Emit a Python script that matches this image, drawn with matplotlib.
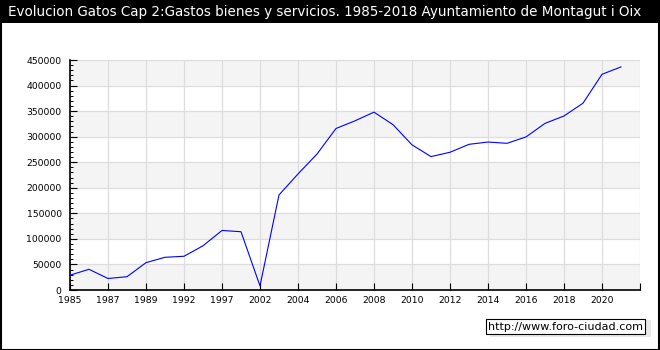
import matplotlib
matplotlib.use('Agg')
import matplotlib.pyplot as plt
from matplotlib.patches import Rectangle
from matplotlib.ticker import MultipleLocator

# datos
years = [1985, 1986, 1987, 1988, 1989, 1990, 1992, 1995, 1997, 2000,
         2002, 2003, 2004, 2005, 2006, 2007, 2008, 2009, 2010, 2011,
         2012, 2013, 2014, 2015, 2016, 2017, 2018, 2019, 2020, 2021]
gastos = [29000, 40500, 22500, 26000, 53500, 64000, 66000, 86500, 116500, 114000,
          8000, 186000, 227000, 266000, 316000, 331000, 348000, 323500, 284000, 261000,
          269500, 285000, 289500, 287000, 299500, 326000, 340500, 365500, 422000, 436500]

title = "Evolucion Gatos Cap 2:Gastos bienes y servicios. 1985-2018 Ayuntamiento de Montagut i Oix"

W, H = 660, 350
fig = plt.figure(figsize=(W / 100, H / 100), dpi=100)
fig.patch.set_facecolor('white')

# barra de titulo
fig.patches.append(Rectangle((0, 1 - 23 / H), 1, 23 / H, transform=fig.transFigure,
                             facecolor='black', edgecolor='none', zorder=0))
fig.text(8 / W, 1 - 12 / H, title, color='white', fontsize=9.75, va='center', ha='left',
         family='DejaVu Sans')
# borde
fig.patches.append(Rectangle((0.5 / W, 0.5 / H), 1 - 1.5 / W, 1 - 1.5 / H, transform=fig.transFigure,
                             facecolor='none', edgecolor='black', linewidth=1.5, zorder=5))

ax = fig.add_axes([70 / W, 60 / H, 570 / W, 230 / H])
x = list(range(len(years)))

# bandas alternas
for lo in range(0, 450000, 100000):
    ax.axhspan(lo, lo + 50000, color='#f4f4f4', zorder=0, linewidth=0)

ax.plot(x, gastos, color='#0000ff', linewidth=0.8, zorder=3)

ax.set_xlim(0, 30)
ax.set_ylim(0, 450000)
ax.set_xticks(range(0, 31, 2))
ax.set_xticklabels([str(years[i]) if i < len(years) else '' for i in range(0, 31, 2)])
ax.yaxis.set_major_locator(MultipleLocator(50000))
ax.yaxis.set_minor_locator(MultipleLocator(10000))

ax.grid(True, which='major', color='#dddddd', linewidth=0.9, zorder=1)
ax.set_axisbelow(True)
for s in ['top', 'right']:
    ax.spines[s].set_visible(False)
for s in ['left', 'bottom']:
    ax.spines[s].set_linewidth(1.2)
ax.tick_params(axis='both', which='major', direction='in', length=5, width=0.8,
               labelsize=6.7)
ax.tick_params(axis='y', which='minor', direction='in', length=2.5, width=0.7)
ax.tick_params(axis='y', which='major', pad=6)
ax.tick_params(axis='x', which='major', pad=4)

# marca de agua
fig.patches.append(Rectangle((490 / W, 1 - 337 / H), 161 / W, 17 / H, transform=fig.transFigure,
                             facecolor='#e8e8e8', edgecolor='none', zorder=6))
fig.text(488 / W, 1 - 326.5 / H, 'http://www.foro-ciudad.com', fontsize=8, va='center', ha='left',
         zorder=8, bbox=dict(boxstyle='square,pad=0.2', facecolor='white', edgecolor='black', linewidth=0.8))

fig.savefig('out.png', dpi=100)
